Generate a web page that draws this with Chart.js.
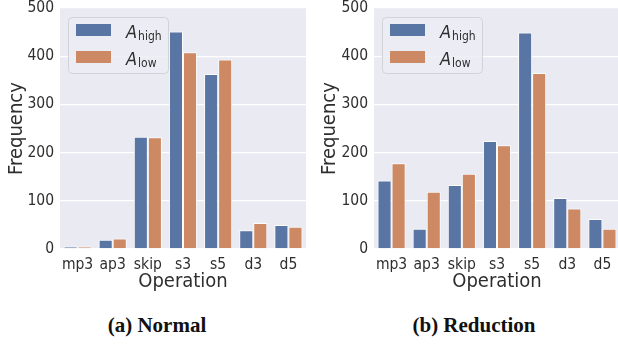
<!DOCTYPE html>
<html>
<head>
<meta charset="utf-8">
<script src="https://cdn.jsdelivr.net/npm/chart.js@4"></script>
<style>
  html, body { margin: 0; padding: 0; background: #fff; width: 618px; height: 346px; overflow: hidden; }
  #wrap { position: relative; width: 618px; height: 346px; overflow: hidden; }
  .panel { position: absolute; top: 0; }
  .panel canvas { display: block; }
  .cap {
    position: absolute; top: 315px; line-height: 20px;
    font-family: 'Liberation Serif', 'DejaVu Serif', serif; font-weight: bold; font-size: 21px;
    color: #111; white-space: nowrap; transform: translateX(-50%);
  }
</style>
</head>
<body>
<div id="wrap">
  <div class="panel" style="left:0;"><canvas id="normal" width="309" height="300"></canvas></div>
  <div class="panel" style="left:309px;"><canvas id="reduction" width="313" height="300"></canvas></div>
  <div class="cap" style="left:157px;">(a) Normal</div>
  <div class="cap" style="left:474px;">(b) Reduction</div>
</div>
<script>
// Operation types on the x axis
const operations = ['mp3', 'ap3', 'skip', 's3', 's5', 'd3', 'd5'];

// Selection frequency per operation, normal cells
const normalHigh = [5, 19, 233, 451, 363, 39, 50];
const normalLow  = [5, 22, 232, 408, 393, 54, 46];

// Selection frequency per operation, reduction cells
const reductionHigh = [142, 42, 133, 224, 449, 106, 62];
const reductionLow  = [178, 119, 156, 215, 365, 84, 42];

// Frequency axis ticks
const yTicks = [0, 100, 200, 300, 400, 500];

// Legend subscripts for A_high / A_low
const legendSubs = ['high', 'low'];

const BLUE = '#5975a4';
const ORANGE = '#cc8963';
const FONT = "'DejaVu Sans Condensed', 'Liberation Sans Narrow', 'DejaVu Sans', sans-serif";
const TEXT = '#2e2e2e';

// Seaborn-style grey plot background
const plotBackground = {
  id: 'plotBackground',
  beforeDraw(chart) {
    const { ctx, chartArea: a } = chart;
    ctx.save();
    ctx.fillStyle = '#eaeaf2';
    ctx.fillRect(a.left, a.top, a.right - a.left, a.bottom - a.top);
    ctx.restore();
  }
};

// Legend with italic A and subscript text
const subLegend = {
  id: 'subLegend',
  afterDatasetsDraw(chart) {
    const { ctx, chartArea: a } = chart;
    const x = a.left + 8, y = a.top + 9, w = 100, h = 56;
    ctx.save();
    ctx.beginPath();
    ctx.roundRect(x + 0.5, y + 0.5, w, h, 4);
    ctx.fillStyle = 'rgba(236,236,244,0.85)';
    ctx.fill();
    ctx.strokeStyle = '#d2d2d9';
    ctx.lineWidth = 1;
    ctx.stroke();
    chart.data.datasets.forEach((ds, i) => {
      const sy = y + 7 + i * 27;
      ctx.fillStyle = ds.backgroundColor;
      ctx.fillRect(x + 8, sy, 35, 12);
      ctx.fillStyle = TEXT;
      ctx.textBaseline = 'alphabetic';
      ctx.textAlign = 'left';
      const bx = x + 58, by = sy + 14;
      ctx.font = 'italic 18px ' + FONT;
      ctx.fillText('A', bx, by);
      const aw = ctx.measureText('A').width;
      ctx.font = '12px ' + FONT;
      ctx.fillText(legendSubs[i], bx + aw + 1, by + 1.5);
    });
    ctx.restore();
  }
};

function makeChart(id, high, low, padLeft, yWidth, padRight) {
  return new Chart(document.getElementById(id), {
    type: 'bar',
    data: {
      labels: operations,
      datasets: [
        { label: 'A_high', data: high, backgroundColor: BLUE, borderColor: 'rgba(255,255,255,0.85)', borderWidth: 1 },
        { label: 'A_low', data: low, backgroundColor: ORANGE, borderColor: 'rgba(255,255,255,0.85)', borderWidth: 1 }
      ]
    },
    options: {
      responsive: false,
      animation: false,
      devicePixelRatio: 1,
      layout: { padding: { left: padLeft, right: padRight, top: 8, bottom: 6 } },
      datasets: { bar: { categoryPercentage: 0.8, barPercentage: 1.0 } },
      plugins: { legend: { display: false }, tooltip: { enabled: false } },
      scales: {
        x: {
          grid: { display: false },
          border: { display: false },
          ticks: { color: TEXT, font: { family: FONT, size: 15.5 }, padding: -1, maxRotation: 0 },
          title: { display: true, text: 'Operation', color: TEXT, font: { family: FONT, size: 20 }, padding: 0 },
          afterFit(s) { s.height = 45; s.paddingLeft = 0; s.paddingRight = 0; }
        },
        y: {
          min: 0, max: 500,
          afterBuildTicks(s) { s.ticks = yTicks.map(v => ({ value: v })); },
          grid: { color: '#ffffff', lineWidth: 1.3, drawTicks: false },
          border: { display: false },
          ticks: { color: TEXT, font: { family: FONT, size: 15.5 }, padding: 6 },
          title: { display: true, text: 'Frequency', color: TEXT, font: { family: FONT, size: 20 }, padding: 0 },
          afterFit(s) { s.width = yWidth; s.paddingTop = 0; s.paddingBottom = 0; }
        }
      }
    },
    plugins: [plotBackground, subLegend]
  });
}

makeChart('normal', normalHigh, normalLow, 5, 55, 3);
makeChart('reduction', reductionHigh, reductionLow, 9, 56, 2);
</script>
</body>
</html>
